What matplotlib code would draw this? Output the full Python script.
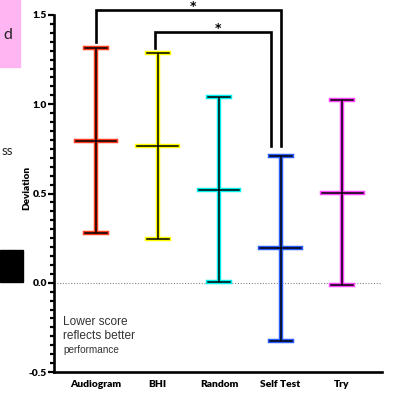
import matplotlib.pyplot as plt
from matplotlib.patches import Rectangle
from matplotlib.ticker import MultipleLocator

groups = ["Audiogram", "BHI", "Random", "Self Test", "Try"]
means = [0.796, 0.767, 0.52, 0.194, 0.504]
upper = [1.313, 1.287, 1.040, 0.711, 1.025]
lower = [0.278, 0.246, 0.004, -0.325, -0.015]
colors = ["#ff3b1f", "#ffff00", "#00f0f0", "#2a5cff", "#ff44ff"]

# significance brackets: (start group, end group, start y, top y, end y, star x, star y)
brackets = [
    (0, 3.0, 1.35, 1.529, 0.765, 1.58, 1.55),
    (0.96, 2.85, 1.317, 1.403, 0.765, 1.98, 1.425),
]

fig = plt.figure(figsize=(3.96, 3.96), dpi=100)
ax = fig.add_axes([54 / 396, 24 / 396, 328 / 396, 357 / 396])

cap_w = 0.179
mean_w = 0.333
for i, (m, hi, lo, c) in enumerate(zip(means, upper, lower, colors)):
    for col, lw in ((c, 3.2), ("black", 1.1)):
        ax.plot([i, i], [lo, hi], color=col, lw=lw, solid_capstyle="butt", zorder=3)
        ax.plot([i - cap_w, i + cap_w], [hi, hi], color=col, lw=lw, zorder=3)
        ax.plot([i - cap_w, i + cap_w], [lo, lo], color=col, lw=lw, zorder=3)
        ax.plot([i - mean_w, i + mean_w], [m, m], color=col, lw=lw, zorder=3)

for x0, x1, y0, ytop, y1, sx, sy in brackets:
    ax.plot([x0, x0, x1, x1], [y0, ytop, ytop, y1], color="black", lw=1.9,
            clip_on=False, solid_joinstyle="miter", zorder=4)
    ax.text(sx, sy, "*", ha="center", va="center", fontsize=9, fontweight="bold",
            clip_on=False)

ax.axhline(0, color="#888888", lw=0.8, ls=(0, (1, 1.5)), zorder=1)

ax.set_xlim(-0.683, 4.65)
ax.set_ylim(-0.5, 1.5)
ax.set_xticks(range(len(groups)))
ax.set_xticklabels(groups, fontsize=7.4, fontweight="heavy", family="Lato")
ax.tick_params(axis="x", length=0, pad=6)
ax.yaxis.set_major_locator(MultipleLocator(0.5))
ax.yaxis.set_minor_locator(MultipleLocator(0.05))
ax.set_yticks([-0.5, 0, 0.5, 1.0, 1.5])
ax.set_yticklabels(["-0.5", "0.0", "0.5", "1.0", "1.5"], fontsize=7.4,
                   fontweight="heavy", family="Lato")
ax.tick_params(axis="y", which="major", length=4, width=1.6, pad=1)
ax.tick_params(axis="y", which="minor", length=2.8, width=1.6)
for s in ["top", "right"]:
    ax.spines[s].set_visible(False)
for s in ["left", "bottom"]:
    ax.spines[s].set_linewidth(1.9)

ax.text(63 / 396, 1 - 322 / 396, "Lower score", transform=fig.transFigure,
        fontsize=8.6, family="Liberation Sans", color="#333333", va="center")
ax.text(63 / 396, 1 - 336 / 396, "reflects better", transform=fig.transFigure,
        fontsize=8.6, family="Liberation Sans", color="#333333", va="center")
ax.text(63 / 396, 1 - 350 / 396, "performance", transform=fig.transFigure,
        fontsize=7.2, family="Liberation Sans", color="#333333", va="center")

fig.text(27 / 396, 1 - 188 / 396, "Deviation", rotation=90, ha="center", va="center",
         fontsize=7.2, fontweight="heavy", family="Lato")

# cropped slide fragments on the left edge
fig.patches.append(Rectangle((0, 1 - 67 / 396), 20 / 396, 67 / 396,
                             transform=fig.transFigure, color="#ffb5f2", zorder=0))
fig.text(8 / 396, 1 - 35 / 396, "d", ha="center", va="center", fontsize=11.5,
         family="Lato", color="#222222")
fig.text(1.5 / 396, 1 - 151 / 396, "ss", ha="left", va="center", fontsize=9.5,
         family="Lato", color="#222222")
fig.patches.append(Rectangle((0, 1 - 282 / 396), 23 / 396, 32 / 396,
                             transform=fig.transFigure, color="black", zorder=0))

fig.savefig("out.png", dpi=100)
